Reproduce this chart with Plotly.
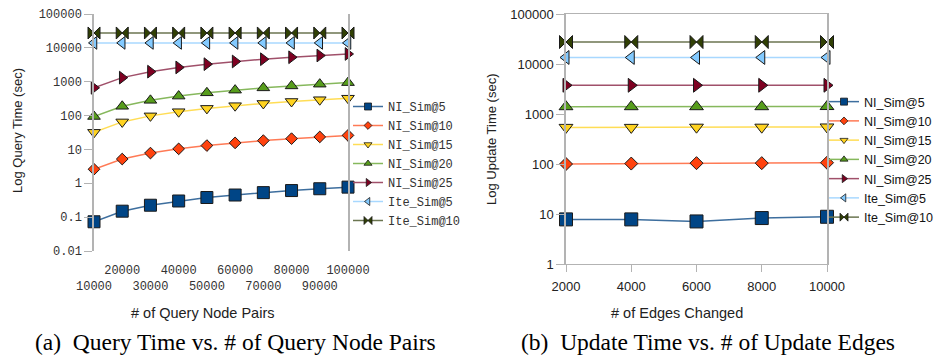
import plotly.graph_objects as go

W, H = 935, 362

series_names = ["NI_Sim@5", "NI_Sim@10", "NI_Sim@15", "NI_Sim@20", "NI_Sim@25", "Ite_Sim@5", "Ite_Sim@10"]
colors = ["#004586", "#ff420e", "#ffd320", "#579d1c", "#7e0021", "#83caff", "#314004"]
line_colors = ["#3d6e9e", "#ff7a55", "#ffdd55", "#86b85c", "#a0506a", "#a8d8ff", "#6b7550"]
symbols = ["square", "diamond", "triangle-down", "triangle-up", "triangle-right", "triangle-left", "bowtie"]
marker_sizes = [12, 9, 11, 11, 11, 11, 12]
legend_sizes = [7, 6, 7, 7, 7, 7, 8]

# (a) Query time vs. # of query node pairs
query_pairs = [10000, 20000, 30000, 40000, 50000, 60000, 70000, 80000, 90000, 100000]
query_time = {
    "NI_Sim@5": [0.073, 0.15, 0.225, 0.3, 0.38, 0.45, 0.53, 0.61, 0.69, 0.77],
    "NI_Sim@10": [2.6, 5.2, 7.8, 10.4, 13, 15.6, 18.2, 20.8, 23.4, 26],
    "NI_Sim@15": [32, 65, 98, 130, 163, 196, 228, 261, 294, 326],
    "NI_Sim@20": [94, 188, 282, 376, 470, 564, 658, 752, 846, 940],
    "NI_Sim@25": [660, 1320, 1980, 2640, 3300, 3960, 4620, 5280, 5940, 6600],
    "Ite_Sim@5": [14000] * 10,
    "Ite_Sim@10": [27500] * 10,
}
query_xtick_text = ["10000", "20000", "30000", "40000", "50000", "60000", "70000", "80000", "90000", "100000"]
query_ytick_vals = [0.01, 0.1, 1, 10, 100, 1000, 10000, 100000]
query_ytick_text = ["0.01", "0.1", "1", "10", "100", "1000", "10000", "100000"]

# (b) Update time vs. # of update edges
edges_changed = [2000, 4000, 6000, 8000, 10000]
update_time = {
    "NI_Sim@5": [7.8, 7.8, 7.1, 8.3, 8.8],
    "NI_Sim@10": [100, 102, 104, 104, 106],
    "NI_Sim@15": [540, 540, 545, 545, 550],
    "NI_Sim@20": [1400, 1400, 1400, 1400, 1410],
    "NI_Sim@25": [3750, 3750, 3750, 3750, 3750],
    "Ite_Sim@5": [13500, 13500, 13500, 13500, 13500],
    "Ite_Sim@10": [27500, 27500, 27500, 27500, 27500],
}
update_ytick_vals = [1, 10, 100, 1000, 10000, 100000]
update_ytick_text = ["1", "10", "100", "1000", "10000", "100000"]

fig = go.Figure()

for i, name in enumerate(series_names):
    fig.add_trace(go.Scatter(
        x=query_pairs, y=query_time[name], mode="lines+markers", name=name,
        line=dict(color=line_colors[i], width=1.5),
        marker=dict(symbol=symbols[i], size=marker_sizes[i], color=colors[i],
                    line=dict(color="#1a1a1a", width=1)),
        cliponaxis=False, showlegend=False, xaxis="x", yaxis="y"))
    fig.add_trace(go.Scatter(
        x=[None], y=[None], mode="lines+markers", name=name,
        line=dict(color=line_colors[i], width=1.5),
        marker=dict(symbol=symbols[i], size=legend_sizes[i], color=colors[i],
                    line=dict(color="#1a1a1a", width=0.8)),
        showlegend=True, legend="legend", xaxis="x", yaxis="y"))

for i, name in enumerate(series_names):
    fig.add_trace(go.Scatter(
        x=edges_changed, y=update_time[name], mode="lines+markers", name=name,
        line=dict(color=line_colors[i], width=1.5),
        marker=dict(symbol=symbols[i], size=marker_sizes[i] + 1, color=colors[i],
                    line=dict(color="#1a1a1a", width=1)),
        cliponaxis=False, showlegend=False, xaxis="x2", yaxis="y2"))
    fig.add_trace(go.Scatter(
        x=[None], y=[None], mode="lines+markers", name=name,
        line=dict(color=line_colors[i], width=1.5),
        marker=dict(symbol=symbols[i], size=legend_sizes[i], color=colors[i],
                    line=dict(color="#1a1a1a", width=0.8)),
        showlegend=True, legend="legend2", xaxis="x2", yaxis="y2"))

mono = dict(family="Liberation Mono", size=12, color="#333333")
sans = dict(family="Liberation Sans", size=13, color="#222222")
sans_x = dict(family="Liberation Sans", size=14.5, color="#222222")

ax_grey = "#b3b3b3"

fig.update_layout(
    template="none",
    width=W, height=H, margin=dict(l=0, r=0, t=0, b=0, pad=0, autoexpand=False),
    paper_bgcolor="white", plot_bgcolor="white",
    xaxis=dict(domain=[94 / W, 348 / W], range=[10000, 100000], tickmode="array",
               tickvals=query_pairs,
               ticktext=[t if k % 2 == 1 else "<br>" + t for k, t in enumerate(query_xtick_text)],
               tickfont=mono, showgrid=False, zeroline=False, showline=False,
               ticks="", tickangle=0, ticklabelstandoff=10, automargin=False, anchor="y"),
    yaxis=dict(domain=[1 - 251 / H, 1 - 14 / H], type="log", range=[-2, 5],
               tickmode="array", tickvals=query_ytick_vals, ticktext=query_ytick_text,
               tickfont=mono, showgrid=False, zeroline=False, showline=True,
               linecolor=ax_grey, linewidth=1.5, mirror=True, ticks="outside", ticklen=8,
               tickcolor=ax_grey, automargin=False, anchor="x"),
    xaxis2=dict(domain=[566 / W, 827 / W], range=[2000, 10000], tickmode="array",
                tickvals=edges_changed, ticktext=[str(v) for v in edges_changed],
                tickfont=sans, showgrid=False, zeroline=False, showline=True,
                linecolor=ax_grey, linewidth=1, mirror=True, ticks="outside", ticklen=7,
                tickcolor=ax_grey, tickangle=0, ticklabelstandoff=3, automargin=False,
                anchor="y2"),
    yaxis2=dict(domain=[1 - 264 / H, 1 - 14 / H], type="log", range=[0, 5],
                tickmode="array", tickvals=update_ytick_vals, ticktext=update_ytick_text,
                tickfont=sans, showgrid=False, zeroline=False, showline=True,
                linecolor=ax_grey, linewidth=1.5, mirror=True, ticks="outside", ticklen=8,
                tickcolor=ax_grey, automargin=False, anchor="x2"),
    legend=dict(x=348 / W, y=1 - 92 / H, xanchor="left", yanchor="top",
                font=dict(family="Liberation Mono", size=12, color="#333333"),
                bgcolor="rgba(0,0,0,0)", tracegroupgap=0, itemwidth=30),
    legend2=dict(x=824 / W, y=1 - 87 / H, xanchor="left", yanchor="top",
                 font=dict(family="Liberation Sans", size=12.5, color="#111111"),
                 bgcolor="rgba(0,0,0,0)", tracegroupgap=0, itemwidth=30),
    showlegend=True,
)

def note(text, x, y, font, angle=0):
    return dict(text=text, x=x / W, y=1 - y / H, textangle=angle, font=font,
                showarrow=False, xref="paper", yref="paper",
                xanchor="center", yanchor="middle")

serif = dict(family="Liberation Serif", size=23.5, color="black")
annotations = [
    note("Log Query Time (sec)", 17, 131, sans, -90),
    note("# of Query Node Pairs", 202, 313, sans_x),
    note("Log Update Time (sec)", 491, 139, sans, -90),
    note("# of Edges Changed", 677, 313, sans_x),
    note("(a)  Query Time vs. # of Query Node Pairs", 236, 342, serif),
    note("(b)  Update Time vs. # of Update Edges", 708, 342, serif),
]
fig.update_layout(annotations=annotations)

fig.write_html("out.html", config={"displayModeBar": False},
               post_script="document.body.style.margin='0';")
